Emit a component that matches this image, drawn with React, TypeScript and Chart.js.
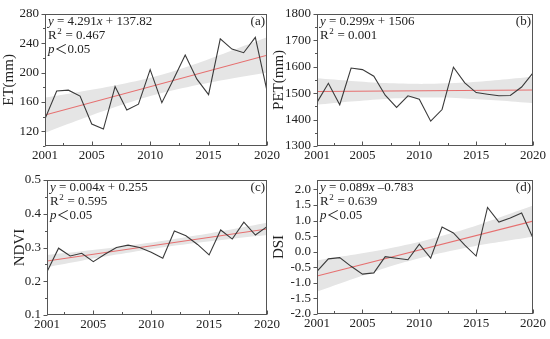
import React, { useEffect, useRef } from "react";
import { Chart, registerables } from "chart.js";

Chart.register(...registerables);

// ---------- data ----------
const years = [2001, 2002, 2003, 2004, 2005, 2006, 2007, 2008, 2009, 2010, 2011, 2012, 2013, 2014, 2015, 2016, 2017, 2018, 2019, 2020];
const xTickValues = [2001, 2005, 2010, 2015, 2020];
const xMinorTicks = [2002.5, 2007.5, 2012.5, 2017.5];

const etValues = [137, 175, 176, 168, 130, 123, 181, 149, 157, 204, 159, 191, 224, 191, 170, 246, 232, 227, 248, 175];
const petValues = [1465, 1537, 1456, 1595, 1589, 1564, 1492, 1446, 1490, 1477, 1394, 1438, 1598, 1539, 1502, 1496, 1490, 1491, 1523, 1577];
const ndviValues = [0.228, 0.298, 0.275, 0.283, 0.258, 0.28, 0.3, 0.307, 0.3, 0.286, 0.268, 0.349, 0.335, 0.309, 0.278, 0.352, 0.325, 0.375, 0.337, 0.362];
const dsiValues = [-0.63, -0.23, -0.19, -0.47, -0.72, -0.68, -0.16, -0.21, -0.26, 0.24, -0.21, 0.79, 0.6, 0.21, -0.14, 1.42, 0.95, 1.08, 1.24, 0.44];

// fitted trend lines (end points)
const fitYears = [2001, 2020];
const etFit = [142.1, 223.6];
const petFit = [1506.3, 1512.0];
const ndviFit = [0.26, 0.355];
const dsiFit = [-0.78, 0.98];

// confidence band
const bandYears = [2001, 2004, 2007, 2010.5, 2014, 2017, 2020];
const etBandLow = [118, 136, 153, 170, 183, 192, 200];
const etBandHigh = [166, 174, 182.5, 195, 212.5, 230, 248];
const petBandLow = [1456, 1468, 1478, 1483, 1480, 1472, 1462];
const petBandHigh = [1556, 1546, 1538, 1535, 1540, 1550, 1562];
const ndviBandLow = [0.242, 0.261, 0.279, 0.298, 0.314, 0.326, 0.337];
const ndviBandHigh = [0.278, 0.289, 0.301, 0.317, 0.336, 0.354, 0.373];
const dsiBandLow = [-1.28, -0.89, -0.52, -0.16, 0.12, 0.31, 0.48];
const dsiBandHigh = [-0.28, -0.11, 0.08, 0.36, 0.72, 1.09, 1.48];

// y axis ticks
const etTicks = [120, 160, 200, 240, 280];
const etMinor = [100, 140, 180, 220, 260];
const petTicks = [1300, 1400, 1500, 1600, 1700, 1800];
const petMinor = [1350, 1450, 1550, 1650, 1750];
const ndviTicks = [0.1, 0.2, 0.3, 0.4, 0.5];
const ndviMinor = [0.15, 0.25, 0.35, 0.45];
const dsiTicks = [-2, -1.5, -1, -0.5, 0, 0.5, 1, 1.5, 2];
const dsiMinor: number[] = [];

// annotation texts
const etNote = [
  [["y", "i"], [" = 4.291", ""], ["x", "i"], [" + 137.82", ""]],
  [["R", ""], ["2", "s"], [" = 0.467", ""]],
  [["p", "i"], ["＜0.05", ""]],
];
const petNote = [
  [["y", "i"], [" = 0.299", ""], ["x", "i"], [" + 1506", ""]],
  [["R", ""], ["2", "s"], [" = 0.001", ""]],
];
const ndviNote = [
  [["y", "i"], [" = 0.004", ""], ["x", "i"], [" + 0.255", ""]],
  [["R", ""], ["2", "s"], [" = 0.595", ""]],
  [["p", "i"], ["＜0.05", ""]],
];
const dsiNote = [
  [["y", "i"], [" = 0.089", ""], ["x", "i"], [" –0.783", ""]],
  [["R", ""], ["2", "s"], [" = 0.639", ""]],
  [["p", "i"], ["＜0.05", ""]],
];

const FONT = '"Liberation Serif", "Times New Roman", "Noto Sans CJK SC", serif';

type PanelCfg = {
  values: number[];
  fit: number[];
  low: number[];
  high: number[];
  yMin: number;
  yMax: number;
  yTicks: number[];
  yMinor: number[];
  decimals: number;
  title: string;
  titlePad: number;
  label: string;
  note: string[][][];
  L: number;
  R: number;
  T: number;
  B: number;
  yw: number;
};

const panels: PanelCfg[] = [
  { values: etValues, fit: etFit, low: etBandLow, high: etBandHigh, yMin: 100, yMax: 280, yTicks: etTicks, yMinor: etMinor, decimals: 0, title: "ET(mm)", titlePad: 0.5, label: "(a)", note: etNote, L: 45, R: 267, T: 13, B: 146, yw: 45 },
  { values: petValues, fit: petFit, low: petBandLow, high: petBandHigh, yMin: 1300, yMax: 1800, yTicks: petTicks, yMinor: petMinor, decimals: 0, title: "PET(mm)", titlePad: 0, label: "(b)", note: petNote, L: 317, R: 533, T: 12, B: 146, yw: 47 },
  { values: ndviValues, fit: ndviFit, low: ndviBandLow, high: ndviBandHigh, yMin: 0.1, yMax: 0.5, yTicks: ndviTicks, yMinor: ndviMinor, decimals: 1, title: "NDVI", titlePad: 11, label: "(c)", note: ndviNote, L: 47, R: 267, T: 180, B: 315, yw: 47 },
  { values: dsiValues, fit: dsiFit, low: dsiBandLow, high: dsiBandHigh, yMin: -2, yMax: 2.3, yTicks: dsiTicks, yMinor: dsiMinor, decimals: 1, title: "DSI", titlePad: 0, label: "(d)", note: dsiNote, L: 317, R: 533, T: 180, B: 314, yw: 47 },
];

const W = 550;
const H = 339;
const X_AXIS_H = 20;

function pts(xs: number[], ys: number[]) {
  return xs.map((x, i) => ({ x, y: ys[i] }));
}

function buildConfig(p: PanelCfg): any {
  const framePlugin = {
    id: "frame",
    afterDatasetsDraw(chart: any) {
      const { ctx, chartArea } = chart;
      const xs = chart.scales.x;
      const ys = chart.scales.y;
      const l = Math.round(chartArea.left) + 0.5;
      const r = Math.round(chartArea.right) - 0.5;
      const t = Math.round(chartArea.top) + 0.5;
      const b = Math.round(chartArea.bottom) - 0.5;
      ctx.save();
      ctx.strokeStyle = "#555";
      ctx.lineWidth = 1;
      ctx.strokeRect(l, t, r - l, b - t);
      ctx.beginPath();
      p.yTicks.forEach((v) => {
        const y = Math.round(ys.getPixelForValue(v)) + 0.5;
        ctx.moveTo(l, y);
        ctx.lineTo(l - 4, y);
      });
      p.yMinor.forEach((v) => {
        const y = Math.round(ys.getPixelForValue(v)) + 0.5;
        ctx.moveTo(l, y);
        ctx.lineTo(l - 2.5, y);
      });
      xTickValues.forEach((v) => {
        const x = Math.round(xs.getPixelForValue(v)) + 0.5;
        ctx.moveTo(x, b);
        ctx.lineTo(x, b - 4);
      });
      xMinorTicks.forEach((v) => {
        const x = Math.round(xs.getPixelForValue(v)) + 0.5;
        ctx.moveTo(x, b);
        ctx.lineTo(x, b - 2.5);
      });
      ctx.stroke();
      ctx.restore();
    },
  };

  const notesPlugin = {
    id: "notes",
    afterDraw(chart: any) {
      const { ctx, chartArea } = chart;
      ctx.save();
      ctx.fillStyle = "#222";
      ctx.textBaseline = "middle";
      p.note.forEach((line, i) => {
        let x = chartArea.left + 3;
        const y = chartArea.top + 7.5 + i * 14;
        line.forEach(([text, style]) => {
          if (style === "s") {
            ctx.font = `9px ${FONT}`;
            ctx.fillText(text, x + 0.5, y - 4);
            x += ctx.measureText(text).width + 1;
          } else {
            ctx.font = `${style === "i" ? "italic " : ""}13px ${FONT}`;
            ctx.fillText(text, x, y);
            x += ctx.measureText(text).width;
          }
        });
      });
      ctx.font = `13px ${FONT}`;
      ctx.textAlign = "right";
      ctx.fillText(p.label, chartArea.right - 2, chartArea.top + 8);
      ctx.restore();
    },
  };

  return {
    type: "line",
    data: {
      datasets: [
        { data: pts(years, p.values), borderColor: "#3a3a3a", borderWidth: 1.1, pointRadius: 0, fill: false, tension: 0 },
        { data: pts(fitYears, p.fit), borderColor: "#e66f6f", borderWidth: 1.1, pointRadius: 0, fill: false },
        { data: pts(bandYears, p.low), borderColor: "transparent", borderWidth: 0, pointRadius: 0, fill: false, tension: 0.3 },
        { data: pts(bandYears, p.high), borderColor: "transparent", borderWidth: 0, pointRadius: 0, fill: "-1", backgroundColor: "#e5e5e5", tension: 0.3 },
      ],
    },
    options: {
      responsive: false,
      animation: false,
      events: [],
      layout: {
        autoPadding: false,
        padding: { left: p.L - p.yw, right: W - p.R, top: p.T, bottom: H - p.B - X_AXIS_H },
      },
      plugins: { legend: { display: false }, tooltip: { enabled: false } },
      scales: {
        x: {
          type: "linear",
          min: 2001,
          max: 2020,
          afterBuildTicks: (s: any) => {
            s.ticks = xTickValues.map((v) => ({ value: v }));
          },
          afterFit: (s: any) => {
            s.height = X_AXIS_H;
          },
          grid: { display: false, drawTicks: false },
          border: { display: false },
          ticks: {
            padding: 2,
            maxRotation: 0,
            autoSkip: false,
            color: "#222",
            font: { family: FONT, size: 13 },
            callback: (v: any) => String(v),
          },
        },
        y: {
          type: "linear",
          min: p.yMin,
          max: p.yMax,
          afterBuildTicks: (s: any) => {
            s.ticks = p.yTicks.map((v) => ({ value: v }));
          },
          afterFit: (s: any) => {
            s.width = p.yw;
          },
          grid: { display: false, drawTicks: false },
          border: { display: false },
          ticks: {
            padding: 6,
            autoSkip: false,
            color: "#222",
            font: { family: FONT, size: 13 },
            callback: (v: any) => Number(v).toFixed(p.decimals),
          },
          title: {
            display: true,
            text: p.title,
            color: "#222",
            font: { family: FONT, size: 15 },
            padding: { top: p.titlePad, bottom: 0 },
          },
        },
      },
    },
    plugins: [framePlugin, notesPlugin],
  };
}

function Panel({ cfg }: { cfg: PanelCfg }) {
  const ref = useRef<HTMLCanvasElement>(null);
  useEffect(() => {
    const chart = new Chart(ref.current as HTMLCanvasElement, buildConfig(cfg));
    return () => chart.destroy();
  }, [cfg]);
  return (
    <canvas
      ref={ref}
      width={W}
      height={H}
      style={{ position: "absolute", left: 0, top: 0, width: W, height: H }}
    />
  );
}

export default function App() {
  return (
    <div style={{ position: "fixed", left: 0, top: 0, width: W, height: H, background: "#fff" }}>
      {panels.map((p, i) => (
        <Panel key={i} cfg={p} />
      ))}
    </div>
  );
}
